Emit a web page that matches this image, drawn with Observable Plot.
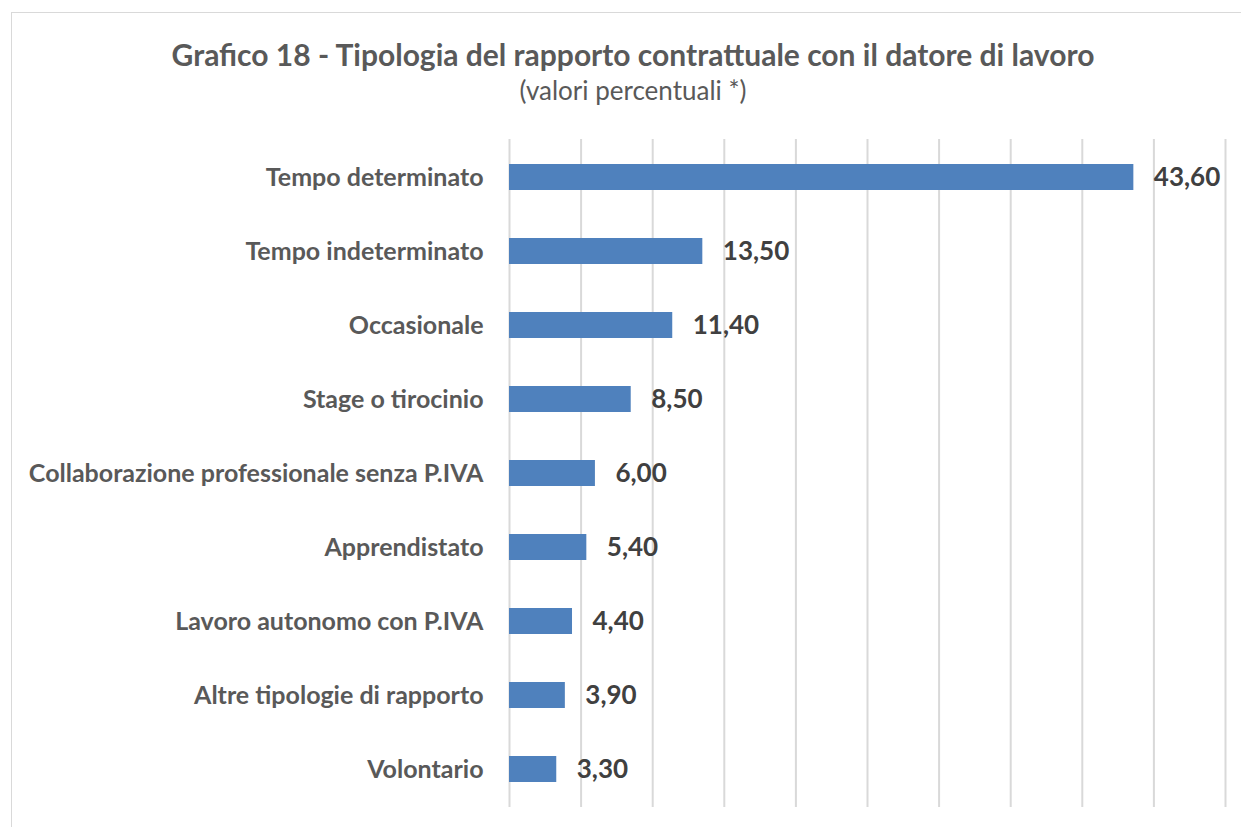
<!DOCTYPE html>
<html><head><meta charset="utf-8">
<script src="https://cdn.jsdelivr.net/npm/d3@7"></script>
<script src="https://cdn.jsdelivr.net/npm/@observablehq/plot@0.6"></script>
<style>
body{margin:0;background:#fff;font-family:Lato,"Open Sans",sans-serif;width:1241px;height:827px;overflow:hidden;position:relative}
#frame{position:absolute;left:11px;top:12px;width:1300px;height:900px;border:1px solid #d9d9d9;box-sizing:border-box;pointer-events:none}
#head{height:120px;position:relative;text-align:center;color:#595959}
#title{position:absolute;left:0;width:1266px;top:36px;font-size:30px;font-weight:bold;line-height:36px}
#sub{position:absolute;left:0;width:1266px;top:75px;font-size:26px;line-height:30px}
#chart{position:absolute;left:0;top:120px}
</style></head>
<body>
<div id="frame"></div>
<div id="head"><div id="title">Grafico 18 - Tipologia del rapporto contrattuale con il datore di lavoro</div><div id="sub">(valori percentuali *)</div></div>
<div id="chart"></div>
<script>
const categories = ["Tempo determinato","Tempo indeterminato","Occasionale","Stage o tirocinio","Collaborazione professionale senza P.IVA","Apprendistato","Lavoro autonomo con P.IVA","Altre tipologie di rapporto","Volontario"];
const values = [43.6,13.5,11.4,8.5,6.0,5.4,4.4,3.9,3.3];
const gridTicks = [0,5,10,15,20,25,30,35,40,45,50];
const data = categories.map((c,i)=>({cat:c,val:values[i]}));
const fmt = v => v.toFixed(2).replace(".", ",");
const chart = Plot.plot({
  width:1241, height:707,
  marginLeft:509, marginRight:16, marginTop:19, marginBottom:20,
  style:{fontFamily:"Lato, 'Open Sans', sans-serif", background:"transparent"},
  x:{domain:[0,50], axis:null},
  y:{domain:categories, paddingInner:0.65, paddingOuter:0.325, axis:null},
  marks:[
    Plot.ruleX(gridTicks,{stroke:"#d9d9d9", strokeWidth:2}),
    Plot.barX(data,{y:"cat", x:"val", fill:"#4f81bd"}),
    Plot.text(data,{y:"cat", x:"val", text:d=>fmt(d.val), textAnchor:"start", dx:20, fontSize:26, fontWeight:"bold", fill:"#404040"}),
    Plot.axisY({tickSize:0, tickPadding:26, fontSize:25, fontWeight:"bold", color:"#595959", label:null})
  ]
});
document.getElementById("chart").appendChild(chart);
</script>
</body></html>
